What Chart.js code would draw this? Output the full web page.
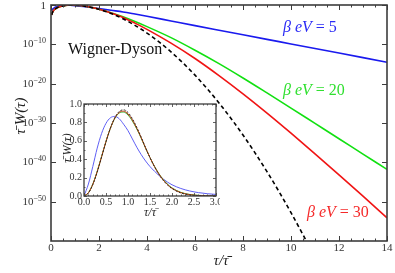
<!DOCTYPE html>
<html><head><meta charset="utf-8">
<script src="https://cdn.jsdelivr.net/npm/chart.js@4"></script>
<style>
html,body{margin:0;padding:0;background:#fff;}
#wrap{position:relative;width:395px;height:273px;overflow:hidden;}
#main{position:absolute;left:0;top:0;}
#inset{position:absolute;left:55px;top:98px;}
</style></head><body>
<div id="wrap"><canvas id="main" width="395" height="273"></canvas><canvas id="inset" width="165" height="122"></canvas></div>
<script>
// ---------- data (main panel, log10 of tau_bar*W) ----------
const mainS = [0.03,0.06,0.1,0.15,0.2,0.3,0.4,0.5,0.6,0.7,0.8,0.9,1.0,1.2,1.4,1.6,1.8,2.0,2.5,3.0,3.5,4,5,6,7,8,9,10,11,12,13,14];
const blueLog = [-1.52,-1.15,-0.886,-0.658,-0.495,-0.284,-0.167,-0.102,-0.071,-0.063,-0.076,-0.108,-0.149,-0.276,-0.420,-0.569,-0.733,-0.914,-1.35,-1.77,-2.30,-2.85,-4.05,-5.25,-6.42,-7.58,-8.74,-9.90,-11.06,-12.22,-13.38,-14.54];
const greenLog = [-2.45,-1.85,-1.44,-1.10,-0.886,-0.572,-0.367,-0.227,-0.133,-0.074,-0.045,-0.040,-0.056,-0.138,-0.284,-0.488,-0.745,-1.056,-1.95,-3.0,-4.2,-5.5,-8.3,-11.5,-14.9,-18.55,-22.35,-26.2,-30.1,-34.0,-37.9,-41.8];
const redLog = [-2.50,-1.89,-1.47,-1.12,-0.896,-0.577,-0.370,-0.228,-0.132,-0.072,-0.041,-0.035,-0.050,-0.133,-0.282,-0.492,-0.757,-1.076,-2.03,-3.15,-4.6,-6.2,-9.7,-13.6,-17.95,-22.6,-27.5,-32.6,-37.85,-43.2,-48.6,-54.1];
const wdS = [0.03,0.06,0.1,0.15,0.2,0.3,0.4,0.5,0.6,0.7,0.8,0.9,1.0,1.2,1.4,1.6,1.8,2.0,2.5,3.0,3.5,4,4.5,5,5.5,6,6.5,7,7.5,8,8.5,9,9.5,10,10.5,10.8];
const wdLog = [-2.535,-1.933,-1.495,-1.149,-0.909,-0.585,-0.373,-0.229,-0.132,-0.070,-0.037,-0.028,-0.042,-0.127,-0.281,-0.496,-0.770,-1.098,-2.149,-3.511,-5.175,-7.132,-9.380,-11.915,-14.736,-17.840,-21.226,-24.894,-28.843,-33.072,-37.581,-42.370,-47.439,-52.785,-58.41,-61.92];
const xTicks = [0,2,4,6,8,10,12,14];
const yTickExps = [0,-10,-20,-30,-40,-50];
const seriesLabels = ['5','20','30'];

// ---------- data (inset, linear) ----------
const insetS = [0,0.1,0.2,0.3,0.4,0.5,0.6,0.7,0.8,0.9,1.0,1.1,1.2,1.3,1.4,1.5,1.6,1.7,1.8,1.9,2.0,2.2,2.4,2.6,2.8,3.0];
const blueIn = [0,.13,.32,.52,.68,.79,.85,.865,.84,.78,.71,.62,.53,.45,.38,.32,.27,.225,.185,.15,.122,.082,.055,.037,.025,.017];
const greenIn = [0,.036,.130,.268,.430,.593,.736,.843,.902,.912,.880,.815,.728,.628,.520,.418,.325,.245,.180,.128,.088,.040,.017,.007,.003,.001];
const redIn = [0,.034,.127,.265,.427,.592,.737,.847,.909,.922,.892,.826,.736,.633,.522,.417,.322,.241,.175,.123,.084,.037,.015,.0055,.002,.0007];
const wdIn = [0,.032,.123,.260,.423,.590,.738,.851,.919,.937,.908,.840,.746,.640,.524,.416,.319,.236,.170,.118,.080,.033,.012,.004,.0012,.0003];
const insetXTicks = [0,0.5,1.0,1.5,2.0,2.5,3.0];
const insetYTicks = [0,0.2,0.4,0.6,0.8,1.0];

const SERIF = "'Liberation Serif','DejaVu Serif',serif";
const FRAME = '#3c3c3c';
const BLUE = '#1a1aee', GREEN = '#11e011', RED = '#f01414';

const pts = (xs, ys) => xs.map((v,i)=>({x:v,y:ys[i]}));

function mixed(ctx, parts, x, y, size, color) {
  ctx.fillStyle = color; ctx.textBaseline = 'middle'; ctx.textAlign = 'left';
  let cx = x;
  for (const p of parts) {
    ctx.font = (p.it ? 'italic ' : '') + size + 'px ' + SERIF;
    ctx.fillText(p.t, cx, y);
    cx += ctx.measureText(p.t).width;
  }
}

const mainDeco = {
  id: 'mainDeco',
  afterDraw(chart) {
    const {ctx, chartArea: a, scales: {x, y}} = chart;
    ctx.save();
    ctx.strokeStyle = FRAME; ctx.lineWidth = 1;
    ctx.beginPath();
    for (let k = 0; k <= 28; k++) {
      const v = k * 0.5;
      const px = Math.round(x.getPixelForValue(v)) + 0.5;
      const L = (k % 4 === 0) ? 5 : 2.5;
      ctx.moveTo(px, a.bottom); ctx.lineTo(px, a.bottom - L);
      ctx.moveTo(px, a.top); ctx.lineTo(px, a.top + L);
    }
    for (const e of yTickExps) {
      const py = Math.round(y.getPixelForValue(e)) + 0.5;
      ctx.moveTo(a.left, py); ctx.lineTo(a.left + 5, py);
      ctx.moveTo(a.right, py); ctx.lineTo(a.right - 5, py);
    }
    ctx.stroke();
    ctx.lineWidth = 1.6;
    ctx.strokeRect(a.left, a.top, a.right - a.left, a.bottom - a.top);

    // tick labels
    ctx.fillStyle = '#333';
    ctx.font = '11px ' + SERIF; ctx.textAlign = 'center'; ctx.textBaseline = 'middle';
    for (const v of xTicks) ctx.fillText(String(v), x.getPixelForValue(v), 248);
    for (const e of yTickExps) {
      const py = y.getPixelForValue(e);
      ctx.textAlign = 'right';
      if (e === 0) { ctx.font = '11px ' + SERIF; ctx.fillText('1', 46, py + 1); continue; }
      ctx.font = '8px ' + SERIF;
      const ex = '\u2212' + Math.abs(e);
      ctx.fillText(ex, 46, py - 3);
      const w = ctx.measureText(ex).width;
      ctx.font = '11px ' + SERIF;
      ctx.fillText('10', 46 - w, py);
    }
    // axis titles
    ctx.fillStyle = '#222';
    ctx.font = 'italic 15px ' + SERIF; ctx.textAlign = 'center';
    ctx.fillText('\u03c4/\u03c4\u0304', 221, 261);
    ctx.save(); ctx.translate(21, 116); ctx.rotate(-Math.PI/2);
    ctx.fillText('\u03c4\u0304 W(\u03c4)', 0, 0);
    ctx.restore();
    // annotations
    ctx.font = '16px ' + SERIF; ctx.textAlign = 'left'; ctx.fillStyle = '#111';
    ctx.fillText('Wigner-Dyson', 68, 50);
    mixed(ctx, [{t:'\u03b2 eV', it:true},{t:' = ' + seriesLabels[0]}], 283, 28, 16, '#2a2af5');
    mixed(ctx, [{t:'\u03b2 eV', it:true},{t:' = ' + seriesLabels[1]}], 283, 91, 16, '#30e030');
    mixed(ctx, [{t:'\u03b2 eV', it:true},{t:' = ' + seriesLabels[2]}], 307, 213, 16, '#f52a2a');
    ctx.restore();
  }
};

new Chart(document.getElementById('main'), {
  type: 'line',
  data: { datasets: [
    {data: pts(wdS, wdLog), borderColor: '#000', borderWidth: 1.6, borderDash: [4,3]},
    {data: pts(mainS, redLog), borderColor: RED, borderWidth: 1.6},
    {data: pts(mainS, greenLog), borderColor: GREEN, borderWidth: 1.6},
    {data: pts(mainS, blueLog), borderColor: BLUE, borderWidth: 1.6}
  ]},
  options: {
    responsive: false, animation: false, devicePixelRatio: 1,
    layout: {padding: {left: 51, top: 5, right: 8, bottom: 32}},
    plugins: {legend: {display: false}, tooltip: {enabled: false}},
    elements: {point: {radius: 0}, line: {cubicInterpolationMode: 'monotone', fill: false}},
    scales: {
      x: {type: 'linear', min: 0, max: 14, display: false},
      y: {type: 'linear', min: -60, max: 0, display: false}
    }
  },
  plugins: [mainDeco]
});

const insetDeco = {
  id: 'insetDeco',
  beforeDatasetsDraw(chart) {
    const {ctx, chartArea: a} = chart;
    ctx.save(); ctx.fillStyle = '#fff';
    ctx.fillRect(a.left, a.top, a.right - a.left, a.bottom - a.top);
    ctx.restore();
  },
  afterDraw(chart) {
    const {ctx, chartArea: a, scales: {x, y}} = chart;
    ctx.save();
    ctx.strokeStyle = FRAME; ctx.lineWidth = 0.8;
    ctx.beginPath();
    for (let k = 0; k <= 30; k++) {
      const px = Math.round(x.getPixelForValue(k * 0.1)) + 0.5;
      const L = (k % 5 === 0) ? 3 : 1.5;
      ctx.moveTo(px, a.bottom); ctx.lineTo(px, a.bottom - L);
      ctx.moveTo(px, a.top); ctx.lineTo(px, a.top + L);
    }
    for (let k = 0; k <= 10; k++) {
      const py = Math.round(y.getPixelForValue(k * 0.1)) + 0.5;
      const L = (k % 2 === 0) ? 3 : 1.5;
      ctx.moveTo(a.left, py); ctx.lineTo(a.left + L, py);
      ctx.moveTo(a.right, py); ctx.lineTo(a.right - L, py);
    }
    ctx.stroke();
    ctx.lineWidth = 1.3;
    ctx.strokeRect(a.left, a.top, a.right - a.left, a.bottom - a.top);
    ctx.fillStyle = '#333';
    ctx.font = '10px ' + SERIF; ctx.textBaseline = 'middle';
    ctx.textAlign = 'center';
    for (const v of insetXTicks) ctx.fillText(v.toFixed(1), x.getPixelForValue(v), a.bottom + 6);
    ctx.textAlign = 'right';
    for (const v of insetYTicks) ctx.fillText(v.toFixed(1), a.left - 2, y.getPixelForValue(v));
    ctx.fillStyle = '#222';
    ctx.font = 'italic 12px ' + SERIF; ctx.textAlign = 'center';
    ctx.fillText('\u03c4/\u03c4\u0304', 95, 115);
    ctx.save(); ctx.translate(13, 50); ctx.rotate(-Math.PI/2);
    ctx.fillText('\u03c4\u0304 W(\u03c4)', 0, 0);
    ctx.restore();
    ctx.restore();
  }
};

new Chart(document.getElementById('inset'), {
  type: 'line',
  data: { datasets: [
    {data: pts(insetS, wdIn), borderColor: '#222', borderWidth: 0.9, borderDash: [2,1.5]},
    {data: pts(insetS, redIn), borderColor: '#c83a10', borderWidth: 1},
    {data: pts(insetS, greenIn), borderColor: '#30b030', borderWidth: 1},
    {data: pts(insetS, blueIn), borderColor: '#5f5ff5', borderWidth: 1}
  ]},
  options: {
    responsive: false, animation: false, devicePixelRatio: 1,
    layout: {padding: {left: 29, top: 6, right: 4, bottom: 24}},
    plugins: {legend: {display: false}, tooltip: {enabled: false}},
    elements: {point: {radius: 0}, line: {cubicInterpolationMode: 'monotone', fill: false}},
    scales: {
      x: {type: 'linear', min: 0, max: 3, display: false},
      y: {type: 'linear', min: 0, max: 1, display: false}
    }
  },
  plugins: [insetDeco]
});
</script>
</body></html>
